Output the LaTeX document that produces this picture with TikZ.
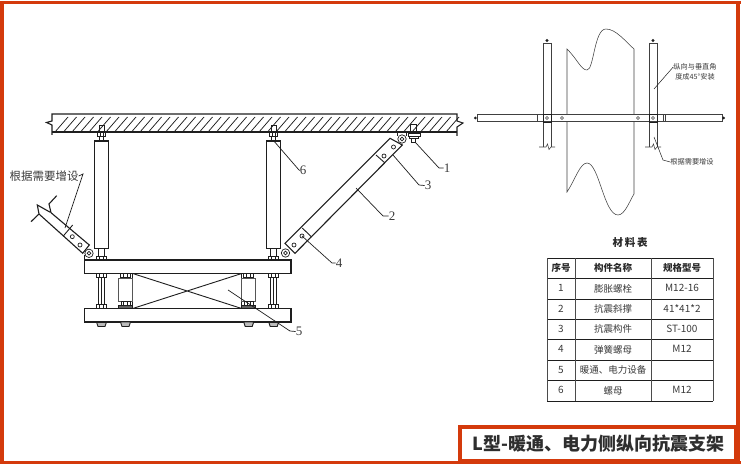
\documentclass[tikz,border=0pt]{standalone}
\usepackage{fontspec}
\setmainfont{Noto Sans CJK SC}
\newfontfamily\numfont{Liberation Serif}
\usepackage{tikz}
\usetikzlibrary{positioning}
\definecolor{frame}{HTML}{D43A0C}
\definecolor{ink}{HTML}{1E1E1E}
\definecolor{txt}{HTML}{3A3A3A}
\newcommand{\pxfont}[1]{\fontsize{#1}{#1}\selectfont}
% nut on a rod: centre x, top y, width
\newcommand{\hexnut}[3]{\draw[part,fill=white] (#1-#3/2,#2) rectangle (#1+#3/2,#2+4);
  \draw[thin part] (#1-#3/5,#2) -- (#1-#3/5,#2+4) (#1+#3/5,#2) -- (#1+#3/5,#2+4);}
\begin{document}
\begin{tikzpicture}
	[x=1pt, y=-1pt,
	part/.style={draw=ink, line width=.9pt},
	thin part/.style={draw=ink, line width=.5pt},
	heavy/.style={draw=ink, line width=1.1pt},
	fine/.style={draw=ink!85, line width=.55pt},
	leader/.style={draw=ink, line width=.7pt},
	hole/.style={draw=ink, line width=.7pt, fill=white},
	num/.style={text=txt, inner sep=0pt, font=\numfont\pxfont{13}},
	note/.style={text=txt, inner sep=0pt, font=\pxfont{7.2}},
	cell/.style={text=txt, inner sep=0pt, font=\pxfont{9.5}},
	head/.style={text=txt!70!black, inner sep=0pt, font=\pxfont{9.5}\bfseries}]
   \useasboundingbox (0,0) rectangle (741,465);
   % frame
   \fill[frame] (0,1) rectangle (741,4.5);
   \fill[frame] (0,1) rectangle (4,463.5);
   \fill[frame] (735.5,1) rectangle (740,463.5);
   \fill[frame] (0,461) rectangle (741,463.5);
   \draw[frame, line width=4pt, fill=white] (459.5,426.5) rectangle (736,461);
   \node[inner sep=0pt, text=txt!80!black, font=\pxfont{18}\bfseries] (title) at (598.5,443.5) {L型-暖通、电力侧纵向抗震支架};

   % ceiling
   \draw[heavy] (52,135) -- (52,125) -- (46.5,122.5) -- (52,121) -- (52,114) -- (457,114)
      -- (457,121) -- (463,123) -- (457,127) -- (457,136);
   \draw[heavy] (52,132) -- (457,132);
   \foreach \hx in {55,63.5,...,447}
      \draw[draw=ink, line width=.75pt] (\hx,132) -- (\hx+13,117);

   % rods and tubes
   \foreach \tx in {101.5,273.7} {
      \draw[part] (\tx-2.5,125) rectangle (\tx+2.5,132);
      \hexnut{\tx}{132}{8}
      \draw[part] (\tx-2,136) -- (\tx-2,141) (\tx+2,136) -- (\tx+2,141);
      \draw[heavy, fill=white] (\tx-7,141) rectangle (\tx+7,248.5);
      \draw[part] (\tx-3,248.5) -- (\tx-3,256) (\tx+3,248.5) -- (\tx+3,256);
      \hexnut{\tx}{256}{10}
      \draw[part] (\tx-3,277) -- (\tx-3,304.5) (\tx+3,277) -- (\tx+3,304.5);
      \draw[thin part] (\tx,277) -- (\tx,304.5);
      \hexnut{\tx}{273.5}{10}
      \hexnut{\tx}{304.5}{10}
      \draw[part, fill=ink!30] (\tx-5,322) -- (\tx+5,322) -- (\tx+3.5,326.5) -- (\tx-3.5,326.5) -- cycle;
   }
   % beams
   \draw[heavy, fill=white] (84.5,260) rectangle (291,273.5);
   \draw[heavy, fill=white] (84.5,308.5) rectangle (291,322);
   % equipment
   \draw[heavy] (132.7,273.5) rectangle (241.7,308.5);
   \draw[part] (132.7,273.5) -- (241.7,308.5) (132.7,308.5) -- (241.7,273.5);
   % springs
   \foreach \sx/\bx in {125.5/118.5,248.7/241.7} {
      \hexnut{\sx}{273.5}{10}
      \draw[part, draw=ink!75] (\bx,278.5) rectangle (\bx+14,301.5);
      \hexnut{\sx}{301.5}{9}
      \draw[part, fill=ink!70] (\sx-7,305.5) rectangle (\sx+7,308.5);
      \draw[part, fill=ink!30] (\sx-5,322) -- (\sx+5,322) -- (\sx+3.5,326.5) -- (\sx-3.5,326.5) -- cycle;
   }

   % right brace
   \draw[heavy, fill=white] (285,243.3) -- (390,138.3) -- (402.3,145) -- (295,253.3) -- cycle;
   \draw[part] (302.3,228) -- (311.5,237) (376,155) -- (385,163);
   \foreach \hx/\hy in {294/245,302/236,384/156,393.5/147}
      \draw[hole] (\hx,\hy) circle (2);
   \draw[part] (397,132) -- (397,136) (406.5,132) -- (406.5,136);
   \draw[hole] (402,139) circle (4.2);
   \draw[hole] (402,139) circle (1.9);
   \draw[hole] (285.5,253) circle (4.2);
   \draw[hole] (285.5,253) circle (1.9);
   % anchor bolt
   \draw[part] (410.5,124) rectangle (416,133);
   \draw[part, fill=white] (408,133) rectangle (420.5,136);
   \draw[part, fill=white] (409.5,136) rectangle (418,138.5);
   \draw[part, fill=white] (411,138.5) rectangle (415,142);

   % left brace
   \draw[heavy] (56.7,195.7) -- (49,204) -- (51,212.7) -- (37.3,205) -- (39,214) -- (31,221.7);
   \draw[heavy, fill=white] (51,212.7) -- (89.3,245) -- (82.7,253.3) -- (39,214);
   \draw[part] (72.7,225) -- (63.3,236);
   \draw[hole] (72.3,236.7) circle (2);
   \draw[hole] (80,245) circle (2);
   \draw[part] (84.5,255) -- (84.5,260);
   \draw[hole] (89,253.3) circle (4.2);
   \draw[hole] (89,253.3) circle (1.9);

   % leaders and numbers
   \node[num] (n_1) at (447,168) {1};
   \node[num] (n_2) at (392,216) {2};
   \node[num] (n_3) at (428,185.5) {3};
   \node[num] (n_4) at (339,263) {4};
   \node[num] (n_5) at (299,331.5) {5};
   \node[num] (n_6) at (303,170.5) {6};
   \coordinate (p_1) at (415,142);
   \coordinate (p_2) at (356,188);
   \coordinate (p_3) at (393,155);
   \coordinate (p_4) at (302,236);
   \coordinate (p_5) at (228,290);
   \coordinate (p_6) at (273,140);
   \draw[leader] (p_1) -- (439,168) -- (n_1.west);
   \draw[leader] (p_2) -- (383,216) -- (n_2.west);
   \draw[leader] (p_3) -- (419,185) -- (n_3.west);
   \draw[leader] (p_4) -- (332,263) -- (n_4.west);
   \draw[leader] (p_5) -- (290,331) -- (n_5.west);
   \draw[leader] (p_6) -- (299,170) -- (n_6.west);
   \node[text=txt, inner sep=0pt, font=\pxfont{11.5}] (add_1) at (44,176) {根据需要增设};
   \coordinate (p_7) at (65,228);
   \draw[leader] (add_1.east) -- (83,174) -- (p_7);

   % plan view
   \draw[fine] (567,114) -- (567,49) .. controls (578,60) and (581,70) .. (587,70)
      .. controls (594,70) and (594,29) .. (606,29) .. controls (616,29) and (626,42) .. (634,49) -- (634,114);
   \draw[fine] (567,122) -- (567,192) .. controls (575,180) and (580,163) .. (587,163)
      .. controls (599,163) and (604,215) .. (618,215) .. controls (625,215) and (630,200) .. (634,194) -- (634,122);
   \foreach \vx in {547,653} {
      \draw[fine] (\vx-4,43) -- (\vx-4,147) (\vx+4,43) -- (\vx+4,147) (\vx-4,43) -- (\vx+4,43);
      \fill[ink] (\vx,40.5) circle (1.6);
      \draw[fine] (\vx-8,147) -- (\vx-1,147) -- (\vx+.5,144) -- (\vx+2,149.5) -- (\vx+4,147) -- (\vx+8,147);
   }
   \draw[fine, fill=white] (477,114.5) rectangle (722,121.5);
   \fill[ink] (475.3,118) circle (1.5) (723.7,118) circle (1.5);
   \draw[fine] (537,114.5) -- (537,121.5) (663,114.5) -- (663,121.5) (665,114.5) -- (665,121.5);
   \foreach \vx in {547,653}
      \draw[part] (\vx-4,114) rectangle (\vx+4,122.5);
   \foreach \hx in {547,562,638,653}
      \draw[fine] (\hx,118) circle (1.5);
   \node[note] (note_1) at (695,67) {纵向与垂直角};
   \node[note, below=2.6pt of note_1] (note_2) {度成45°安装};
   \node[note] (note_3) at (692,162) {根据需要增设};
   \coordinate (p_8) at (654,89);
   \coordinate (p_9) at (654,137);
   \draw[leader, line width=.5pt] (note_1.west) -- (p_8);
   \draw[leader, line width=.5pt] (note_3.west) -- (663,160) -- (p_9);

   % table
   \node[text=txt!70!black, inner sep=0pt, font=\pxfont{10.5}\bfseries] (tab_title) at (630,243) {材\,料\,表};
   \foreach \ry in {258,278,299,319,339,360,380,401}
      \draw[draw=ink, line width=.9pt] (547,\ry) -- (713,\ry);
   \foreach \cx in {547,575,651,713}
      \draw[draw=ink!80, line width=.9pt] (\cx,258) -- (\cx,401);
   \node[head] (h_1) at (561,268) {序号};
   \node[head] (h_2) at (613,268) {构件名称};
   \node[head] (h_3) at (682,268) {规格型号};
   \foreach \ry/\no/\what/\spec in {288.5/1/膨胀螺栓/M12-16,309/2/抗震斜撑/41*41*2,329/3/抗震构件/ST-100,349.5/4/弹簧螺母/M12,370/5/暖通、电力设备/,390.5/6/螺母/M12} {
      \node[cell, font=\pxfont{10}] (no_\no) at (561,\ry-.5) {\no};
      \node[cell] (what_\no) at (613,\ry) {\what};
      \node[cell, font=\pxfont{10}] (spec_\no) at (682,\ry-.5) {\spec};
   }
\end{tikzpicture}
\end{document}
